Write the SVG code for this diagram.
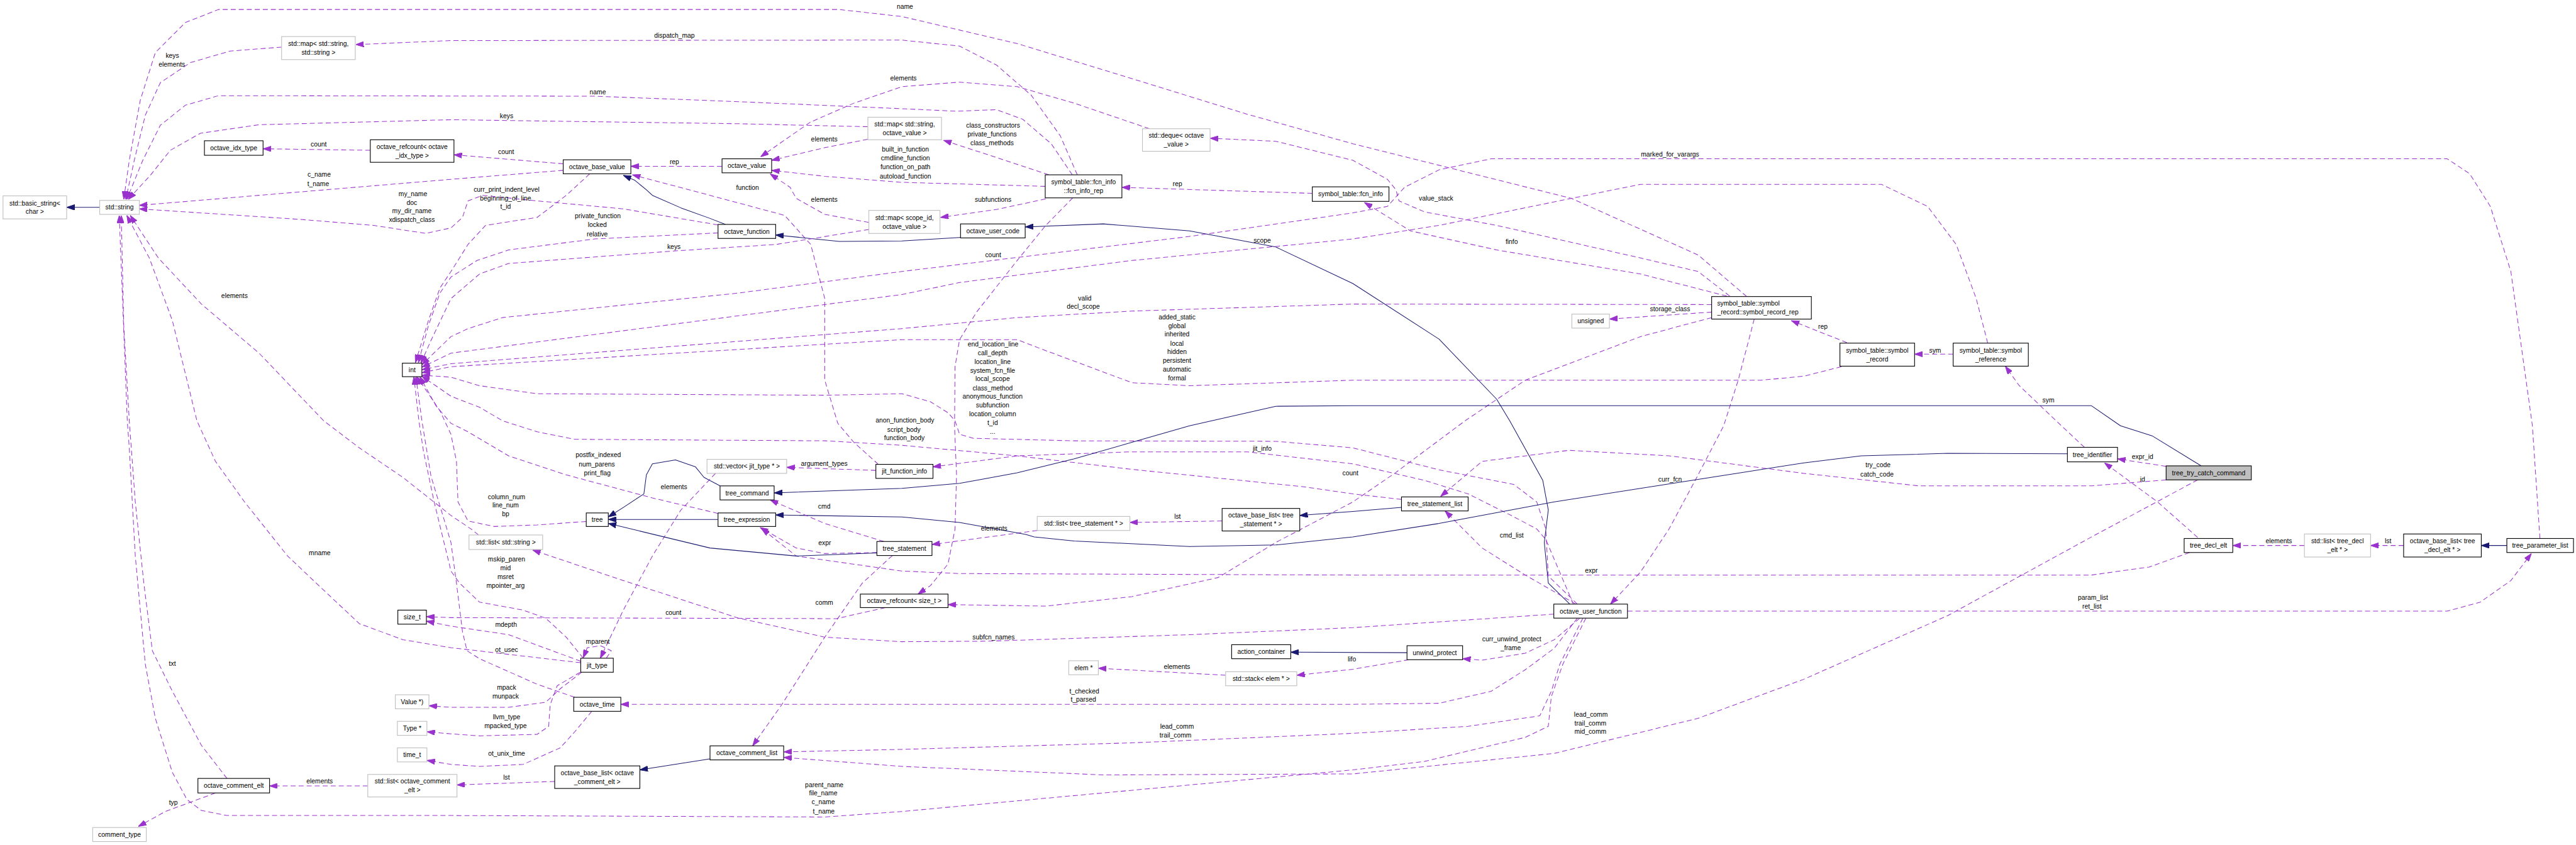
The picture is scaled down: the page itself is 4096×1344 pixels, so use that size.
<svg xmlns="http://www.w3.org/2000/svg" width="4096" height="1344" viewBox="0 0 4096 1344">
<defs>
<style>
.n rect{fill:#fff;stroke:#000;stroke-width:1.4}
.g rect{fill:#fff;stroke:#bfbfbf;stroke-width:1.4}
.s rect{fill:#bfbfbf;stroke:#000;stroke-width:1.4}
text{font-family:"Liberation Sans",Arial,sans-serif;font-size:13px;fill:#000;text-anchor:middle}
.u{fill:none;stroke:#9a32cd;stroke-width:1.3;stroke-dasharray:10,6;stroke-linejoin:round;marker-end:url(#ap)}
.i{fill:none;stroke:#191970;stroke-width:1.3;stroke-linejoin:round;marker-end:url(#ab)}
</style>
<marker id="ap" viewBox="0 0 10 10" refX="10" refY="5" markerWidth="16" markerHeight="11" markerUnits="userSpaceOnUse" orient="auto" preserveAspectRatio="none"><path d="M0,0L10,5L0,10z" fill="#9a32cd" stroke="#9a32cd"/></marker>
<marker id="ab" viewBox="0 0 10 10" refX="10" refY="5" markerWidth="16" markerHeight="11" markerUnits="userSpaceOnUse" orient="auto" preserveAspectRatio="none"><path d="M0,0L10,5L0,10z" fill="#191970" stroke="#191970"/></marker>
</defs>
<rect width="4096" height="1344" fill="#fff"/>
<g transform="scale(0.79673)">
<g id="connectors">
<path class="i" d="M199,414 L133,414"/>
<path class="u" d="M3486,592 L3389,509 L3136,396 L2700,287 L2489,228 L2259,157 L2030,87 L1800,33 L1675,19 L436,19 L370,45 L310,105 L280,200 L258,320 L247,398"/>
<path class="u" d="M562,94 L459,102 L380,125 L320,165 L290,230 L268,320 L251,398"/>
<path class="u" d="M2150,349 L2116,271 L2058,190 L1989,130 L1915,92 L1800,80 L900,81 L710,89"/>
<path class="u" d="M2140,349 L2098,287 L2041,238 L1989,219 L1909,222 L1800,217 L1474,203 L1187,192 L436,191 L370,210 L320,250 L285,320 L253,398"/>
<path class="u" d="M1732,253 L1474,247 L900,239 L517,249 L400,266 L340,300 L300,350 L256,398"/>
<path class="u" d="M739,300 L525,297"/>
<path class="u" d="M1124,327 L906,309"/>
<path class="u" d="M1124,340 L900,358 L600,383 L278,410"/>
<path class="u" d="M1433,449 L1244,417 L1072,401 L963,390 L934,401 L923,434 L900,455 L850,466 L746,450 L600,438 L278,417"/>
<path class="u" d="M1441,332 L1259,332"/>
<path class="i" d="M1448,448 L1417,436 L1359,415 L1302,390 L1290,379 L1267,360 L1244,350"/>
<path class="u" d="M1753,927 L1704,883 L1672,845 L1646,759 L1646,596 L1618,488 L1566,430 L1417,390 L1262,349"/>
<path class="u" d="M2294,257 L2144,206 L2030,173 L1915,164 L1800,173 L1704,206 L1617,244 L1518,313"/>
<path class="u" d="M1732,278 L1645,295 L1540,320"/>
<path class="u" d="M2086,372 L1800,364 L1646,352 L1540,340"/>
<path class="u" d="M2093,349 L1972,309 L1883,280"/>
<path class="u" d="M2087,397 L1990,418 L1877,434"/>
<path class="u" d="M1734,444 L1646,428 L1589,396 L1577,374 L1537,347"/>
<path class="i" d="M1917,474 L1800,481 L1675,482 L1548,469"/>
<path class="i" d="M3133,1206 L3090,1164 L3082,1083 L3090,1018 L3079,959 L3013,840 L2987,797 L2872,677 L2700,566 L2546,493 L2374,461 L2202,447 L2046,453"/>
<path class="u" d="M2619,386 L2239,374"/>
<path class="u" d="M3452,591 L3389,542 L3274,515 L2987,450 L2843,423 L2792,401 L2786,379 L2769,358 L2700,320 L2546,282 L2415,276"/>
<path class="u" d="M3446,591 L3274,547 L2987,499 L2815,461 L2723,404"/>
<path class="u" d="M5069,1075 L5054,850 L5011,542 L4970,412 L4929,347 L4884,317 L2976,317 L2872,339 L2803,374 L2769,412 L2700,425 L2374,472 L1800,542 L1474,585 L1003,634 L934,656 L900,672 L842,728"/>
<path class="u" d="M3967,685 L3944,596 L3904,488 L3847,412 L3755,368 L3274,368 L3136,396 L2872,450 L2700,477 L2259,520 L1915,564 L1800,588 L900,705 L842,733"/>
<path class="u" d="M3416,608 L2700,607 L2259,621 L2030,634 L1800,656 L900,726 L842,738"/>
<path class="u" d="M3675,732 L3600,751 L3515,759 L2700,759 L2374,770 L2259,764 L2144,721 L2087,700 L2030,678 L1800,678 L900,732 L842,744"/>
<path class="u" d="M3148,1206 L3090,1150 L3085,1056 L3067,1002 L3021,967 L2872,938 L2700,894 L2546,881 L2144,880 L1943,875 L1915,867 L1906,840 L1892,824 L1857,802 L1800,786 L1646,789 L1072,786 L957,770 L900,753 L842,749"/>
<path class="u" d="M2797,997 L2700,986 L2604,972 L2259,937 L2030,910 L1800,889 L1647,880 L1147,877 L1072,862 L1003,840 L957,813 L900,791 L842,751"/>
<path class="u" d="M1433,465 L1187,477 L1015,499 L952,520 L900,553 L878,585 L855,650 L835,724"/>
<path class="u" d="M1177,347 L1130,390 L1072,434 L969,450 L934,488 L900,542 L878,575 L855,640 L829,724"/>
<path class="u" d="M1734,458 L1549,488 L1345,501 L1015,526 L957,547 L900,596 L860,680 L840,725"/>
<path class="u" d="M1170,1041 L1072,1048 L986,1051 L934,1040 L914,1002 L911,921 L900,867 L878,820 L832,752"/>
<path class="u" d="M1433,1025 L1302,994 L1130,948 L1015,910 L934,862 L900,845 L870,810 L838,752"/>
<path class="u" d="M1164,1314 L1130,1272 L1089,1234 L1044,1218 L957,1202 L917,1164 L900,1140 L866,1000 L845,900 L836,840 L826,752"/>
<path class="u" d="M1147,1392 L1072,1366 L957,1315 L932,1299 L923,1261 L911,1164 L900,1083 L860,950 L842,840 L830,752"/>
<path class="u" d="M1159,1320 L1015,1267 L900,1250 L851,1240"/>
<path class="u" d="M1767,1213 L1669,1235 L900,1233 L851,1231"/>
<path class="u" d="M1159,1323 L900,1293 L804,1277 L717,1245 L631,1164 L574,1110 L488,1002 L430,921 L393,840 L344,640 L298,515 L253,430"/>
<path class="u" d="M955,1068 L940,1056 L900,1029 L804,953 L717,894 L646,840 L517,705 L402,607 L316,515 L260,430"/>
<path class="u" d="M453,1554 L402,1488 L344,1380 L304,1299 L287,1164 L270,1002 L258,840 L247,650 L242,430"/>
<path class="u" d="M3165,1234 L3119,1326 L3096,1391 L3090,1450 L3044,1472 L2843,1520 L2700,1537 L1800,1620 L1646,1631 L900,1628 L453,1628 L402,1618 L373,1596 L344,1542 L310,1434 L290,1326 L270,1110 L258,894 L254,840 L238,430"/>
<path class="u" d="M430,1583 L330,1620 L276,1650"/>
<path class="u" d="M734,1569 L538,1569"/>
<path class="u" d="M1107,1560 L912,1567"/>
<path class="i" d="M1417,1515 L1277,1537"/>
<path class="u" d="M1161,1342 L1118,1375 L1089,1402 L1015,1412 L900,1412 L856,1409"/>
<path class="u" d="M1158,1342 L1112,1369 L1098,1407 L1095,1450 L1072,1466 L957,1469 L900,1465 L852,1461"/>
<path class="u" d="M1181,1420 L1147,1461 L1118,1493 L1044,1526 L957,1530 L900,1526 L852,1518"/>
<path class="u" d="M3148,1234 L3102,1294 L3044,1337 L2976,1380 L2872,1404 L2700,1406 L1239,1406"/>
<path class="u" d="M3159,1234 L3113,1326 L3096,1380 L3073,1429 L2930,1450 L2700,1464 L2259,1483 L1800,1496 L1564,1501"/>
<path class="u" d="M4386,958 L4174,1072 L3887,1229 L3600,1356 L3389,1434 L3102,1504 L2700,1545 L2202,1547 L1800,1530 L1564,1512"/>
<path class="u" d="M3153,1234 L3102,1277 L3044,1304 L2958,1318 L2919,1315"/>
<path class="i" d="M2808,1303 L2576,1302"/>
<path class="u" d="M2812,1317 L2700,1336 L2588,1348"/>
<path class="u" d="M2446,1348 L2192,1334"/>
<path class="u" d="M3145,1206 L3044,1148 L2958,1094 L2884,1020"/>
<path class="u" d="M4323,958 L4174,970 L3830,970 L3600,945 L3331,910 L3131,899 L2958,921 L2875,991"/>
<path class="i" d="M2797,1013 L2700,1021 L2594,1029"/>
<path class="u" d="M2439,1040 L2255,1043"/>
<path class="u" d="M2070,1059 L1860,1087"/>
<path class="u" d="M3140,1206 L3085,1077 L3067,1056 L3016,1029 L2930,986 L2843,959 L2700,926 L2489,902 L2259,902 L2030,910 L1862,932"/>
<path class="u" d="M2141,395 L2087,450 L2030,520 L1949,623 L1915,678 L1906,732 L1905,850 L1909,948 L1906,1056 L1892,1126 L1857,1169 L1832,1186"/>
<path class="u" d="M3416,634 L3274,672 L3044,759 L2924,840 L2786,943 L2700,1002 L2546,1083 L2431,1153 L2259,1191 L2087,1210 L1892,1207"/>
<path class="u" d="M3501,637 L3469,759 L3440,850 L3389,948 L3331,1056 L3274,1142 L3214,1206"/>
<path class="u" d="M3416,623 L3212,637"/>
<path class="u" d="M3686,684 L3600,650 L3575,640"/>
<path class="u" d="M3898,707 L3821,707"/>
<path class="u" d="M4160,893 L4114,850 L4030,770 L4002,731"/>
<path class="u" d="M4323,931 L4226,916"/>
<path class="u" d="M4386,1073 L4306,1002 L4200,924"/>
<path class="u" d="M4599,1089 L4456,1089"/>
<path class="u" d="M4797,1089 L4731,1089"/>
<path class="i" d="M5003,1089 L4952,1089"/>
<path class="u" d="M3248,1220 L4884,1220 L4950,1202 L5011,1159 L5052,1105"/>
<path class="u" d="M4370,1103 L4289,1132 L4174,1148 L2700,1148 L1915,1145 L1800,1140 L1589,1110 L1520,1055"/>
<path class="i" d="M4393,930 L4295,870 L4232,850 L4174,810 L2700,810 L2546,811 L2374,850 L2259,883 L2144,916 L2030,944 L1915,965 L1800,975 L1545,984"/>
<path class="i" d="M4126,906 L3887,905 L3715,910 L3600,924 L3274,975 L3102,1002 L2872,1045 L2700,1072 L2546,1088 L2374,1091 L2144,1080 L2064,1072 L2047,1067 L1915,1043 L1800,1032 L1548,1028"/>
<path class="u" d="M1764,1081 L1646,1045 L1537,998"/>
<path class="u" d="M1750,1103 L1646,1105 L1589,1094 L1517,1053"/>
<path class="u" d="M1781,1109 L1721,1164 L1646,1272 L1560,1407 L1502,1489"/>
<path class="u" d="M1748,939 L1570,933"/>
<path class="u" d="M1428,945 L1359,1018 L1302,1110 L1244,1218 L1198,1314"/>
<path class="u" d="M1210,1314 L1220,1299 L1198,1289 L1172,1293 L1164,1313"/>
<path class="i" d="M1437,970 L1405,953 L1388,932 L1348,918 L1302,926 L1290,948 L1285,986 L1244,1013 L1214,1032"/>
<path class="i" d="M1433,1037 L1214,1037"/>
<path class="i" d="M1750,1104 L1589,1110 L1417,1094 L1214,1045"/>
<path class="u" d="M3101,1226 L2700,1253 L2374,1267 L1972,1280 L1800,1281 L1646,1272 L1474,1234 L1244,1159 L1063,1098"/>
<text x="1806" y="17">name</text>
<text x="344" y="116">keys</text><text x="343" y="133">elements</text>
<text x="1346" y="75">dispatch_map</text>
<text x="1193" y="188">name</text>
<text x="1011" y="236">keys</text>
<text x="636" y="293">count</text>
<text x="1010" y="307">count</text>
<text x="637" y="353">c_name</text><text x="635" y="371">t_name</text>
<text x="824" y="391">my_name</text><text x="822" y="409">doc</text><text x="822" y="426">my_dir_name</text><text x="822" y="443">xdispatch_class</text>
<text x="1346" y="327">rep</text>
<text x="1492" y="379">function</text>
<text x="1803" y="161">elements</text>
<text x="1645" y="283">elements</text>
<text x="1807" y="303">built_in_function</text><text x="1807" y="320">cmdline_function</text><text x="1807" y="338">function_on_path</text><text x="1807" y="356">autoload_function</text>
<text x="1982" y="255">class_constructors</text><text x="1980" y="273">private_functions</text><text x="1980" y="290">class_methods</text>
<text x="1982" y="403">subfunctions</text>
<text x="1645" y="403">elements</text>
<text x="2350" y="372">rep</text>
<text x="2866" y="400">value_stack</text>
<text x="3017" y="487">finfo</text>
<text x="3333" y="313">marked_for_varargs</text>
<text x="2519" y="484">scope</text>
<text x="2165" y="600">valid</text><text x="2162" y="616">decl_scope</text>
<text x="2349" y="638">added_static</text><text x="2349" y="655">global</text><text x="2349" y="672">inherited</text><text x="2349" y="690">local</text><text x="2349" y="707">hidden</text><text x="2349" y="724">persistent</text><text x="2349" y="742">automatic</text><text x="2349" y="760">formal</text>
<text x="1982" y="692">end_location_line</text><text x="1981" y="709">call_depth</text><text x="1981" y="727">location_line</text><text x="1981" y="744">system_fcn_file</text><text x="1981" y="761">local_scope</text><text x="1981" y="779">class_method</text><text x="1981" y="796">anonymous_function</text><text x="1981" y="813">subfunction</text><text x="1981" y="831">location_column</text><text x="1981" y="848">t_id</text><text x="1981" y="866">...</text>
<text x="1806" y="844">anon_function_body</text><text x="1804" y="862">script_body</text><text x="1805" y="879">function_body</text>
<text x="1193" y="436">private_function</text><text x="1192" y="453">locked</text><text x="1192" y="472">relative</text>
<text x="1011" y="383">curr_print_indent_level</text><text x="1009" y="401">beginning_of_line</text><text x="1009" y="417">t_id</text>
<text x="1345" y="497">keys</text>
<text x="1011" y="997">column_num</text><text x="1009" y="1013">line_num</text><text x="1009" y="1031">bp</text>
<text x="1194" y="913">postfix_indexed</text><text x="1191" y="931">num_parens</text><text x="1192" y="949">print_flag</text>
<text x="1011" y="1121">mskip_paren</text><text x="1009" y="1139">mid</text><text x="1009" y="1156">msret</text><text x="1009" y="1174">mpointer_arg</text>
<text x="1010" y="1252">mdepth</text>
<text x="1011" y="1301">ot_usec</text>
<text x="1344" y="1228">count</text>
<text x="638" y="1108">mname</text>
<text x="468" y="595">elements</text>
<text x="344" y="1329">txt</text>
<text x="1645" y="1571">parent_name</text><text x="1643" y="1588">file_name</text><text x="1643" y="1605">c_name</text><text x="1644" y="1624">t_name</text>
<text x="346" y="1607">typ</text>
<text x="638" y="1564">elements</text>
<text x="1011" y="1556">lst</text>
<text x="1011" y="1377">mpack</text><text x="1009" y="1395">munpack</text>
<text x="1011" y="1436">llvm_type</text><text x="1009" y="1454">mpacked_type</text>
<text x="1011" y="1509">ot_unix_time</text>
<text x="2164" y="1384">t_checked</text><text x="2162" y="1401">t_parsed</text>
<text x="2349" y="1455">lead_comm</text><text x="2346" y="1472">trail_comm</text>
<text x="3175" y="1431">lead_comm</text><text x="3174" y="1448">trail_comm</text><text x="3174" y="1465">mid_comm</text>
<text x="3017" y="1280">curr_unwind_protect</text><text x="3015" y="1298">_frame</text>
<text x="2698" y="1321">lifo</text>
<text x="2349" y="1336">elements</text>
<text x="3017" y="1073">cmd_list</text>
<text x="3748" y="933">try_code</text><text x="3746" y="951">catch_code</text>
<text x="2350" y="1035">lst</text>
<text x="1984" y="1059">elements</text>
<text x="2519" y="900">jit_info</text>
<text x="1982" y="513">count</text>
<text x="2695" y="949">count</text>
<text x="3333" y="961">curr_fcn</text>
<text x="3333" y="621">storage_class</text>
<text x="3638" y="656">rep</text>
<text x="3862" y="704">sym</text>
<text x="4088" y="803">sym</text>
<text x="4276" y="916">expr_id</text>
<text x="4276" y="961">id</text>
<text x="4548" y="1084">elements</text>
<text x="4766" y="1084">lst</text>
<text x="4177" y="1198">param_list</text><text x="4175" y="1215">ret_list</text>
<text x="3176" y="1144">expr</text>
<text x="1645" y="1016">cmd</text>
<text x="1646" y="1088">expr</text>
<text x="1645" y="1207">comm</text>
<text x="1645" y="930">argument_types</text>
<text x="1345" y="976">elements</text>
<text x="1193" y="1285">mparent</text>
<text x="1983" y="1276">subfcn_names</text>
</g>
<g id="std_basic_string" class="g"><rect x="6" y="391" width="127" height="46"/><text x="69.5" y="410">std::basic_string&lt;</text><text x="69.5" y="427.3">char &gt;</text></g>
<g id="std_string" class="g"><rect x="199" y="400" width="79" height="28"/><text x="238.5" y="418.6">std::string</text></g>
<g id="map_string_string" class="g"><rect x="562" y="73" width="147" height="46"/><text x="635.5" y="91.9">std::map&lt; std::string,</text><text x="635.5" y="109.3">std::string &gt;</text></g>
<g id="octave_idx_type" class="n"><rect x="408" y="281" width="117" height="29"/><text x="466.5" y="300.1">octave_idx_type</text></g>
<g id="refcount_idx" class="n"><rect x="739" y="279" width="167" height="45"/><text x="822.5" y="297.4">octave_refcount&lt; octave</text><text x="822.5" y="314.8">_idx_type &gt;</text></g>
<g id="int" class="n"><rect x="803" y="725" width="39" height="27"/><text x="822.5" y="743.1">int</text></g>
<g id="size_t" class="n"><rect x="794" y="1218" width="57" height="28"/><text x="822.5" y="1236.6">size_t</text></g>
<g id="value_ptr" class="g"><rect x="789" y="1387" width="67" height="28"/><text x="822.5" y="1405.6">Value *)</text></g>
<g id="type_ptr" class="g"><rect x="793" y="1440" width="59" height="28"/><text x="822.5" y="1458.6">Type *</text></g>
<g id="time_t" class="g"><rect x="793" y="1493" width="59" height="28"/><text x="822.5" y="1511.6">time_t</text></g>
<g id="list_comment_elt" class="g"><rect x="734" y="1546" width="178" height="45"/><text x="823" y="1564.4">std::list&lt; octave_comment</text><text x="823" y="1581.8">_elt &gt;</text></g>
<g id="octave_comment_elt" class="n"><rect x="395" y="1554" width="143" height="29"/><text x="466.5" y="1573.1">octave_comment_elt</text></g>
<g id="comment_type" class="g"><rect x="185" y="1652" width="107" height="28"/><text x="238.5" y="1670.6">comment_type</text></g>
<g id="octave_base_value" class="n"><rect x="1124" y="319" width="135" height="28"/><text x="1191.5" y="337.6">octave_base_value</text></g>
<g id="octave_value" class="n"><rect x="1441" y="317" width="99" height="28"/><text x="1490.5" y="335.6">octave_value</text></g>
<g id="octave_function" class="n"><rect x="1433" y="448" width="115" height="28"/><text x="1490.5" y="466.6">octave_function</text></g>
<g id="map_string_value" class="g"><rect x="1732" y="234" width="147" height="45"/><text x="1805.5" y="252.4">std::map&lt; std::string,</text><text x="1805.5" y="269.8">octave_value &gt;</text></g>
<g id="map_scope_value" class="g"><rect x="1734" y="420" width="142" height="46"/><text x="1805" y="438.9">std::map&lt; scope_id,</text><text x="1805" y="456.3">octave_value &gt;</text></g>
<g id="vector_jit_type" class="g"><rect x="1411" y="917" width="159" height="28"/><text x="1490.5" y="935.6">std::vector&lt; jit_type * &gt;</text></g>
<g id="tree_command" class="n"><rect x="1437" y="970" width="108" height="28"/><text x="1491" y="988.6">tree_command</text></g>
<g id="tree" class="n"><rect x="1170" y="1024" width="44" height="27"/><text x="1192" y="1042.1">tree</text></g>
<g id="tree_expression" class="n"><rect x="1433" y="1024" width="115" height="27"/><text x="1490.5" y="1042.1">tree_expression</text></g>
<g id="list_string" class="g"><rect x="936" y="1068" width="147" height="29"/><text x="1009.5" y="1087.1">std::list&lt; std::string &gt;</text></g>
<g id="tree_statement" class="n"><rect x="1750" y="1081" width="110" height="28"/><text x="1805" y="1099.6">tree_statement</text></g>
<g id="refcount_size_t" class="n"><rect x="1717" y="1186" width="175" height="27"/><text x="1804.5" y="1204.1">octave_refcount&lt; size_t &gt;</text></g>
<g id="jit_function_info" class="n"><rect x="1748" y="927" width="114" height="28"/><text x="1805" y="945.6">jit_function_info</text></g>
<g id="jit_type" class="n"><rect x="1159" y="1314" width="65" height="28"/><text x="1191.5" y="1332.6">jit_type</text></g>
<g id="octave_time" class="n"><rect x="1145" y="1392" width="94" height="28"/><text x="1192" y="1410.6">octave_time</text></g>
<g id="octave_comment_list" class="n"><rect x="1417" y="1489" width="147" height="28"/><text x="1490.5" y="1507.6">octave_comment_list</text></g>
<g id="base_list_comment" class="n"><rect x="1107" y="1529" width="170" height="45"/><text x="1192" y="1547.4">octave_base_list&lt; octave</text><text x="1192" y="1564.8">_comment_elt &gt;</text></g>
<g id="deque_value" class="g"><rect x="2280" y="257" width="135" height="45"/><text x="2347.5" y="275.4">std::deque&lt; octave</text><text x="2347.5" y="292.8">_value &gt;</text></g>
<g id="fcn_info_rep" class="n"><rect x="2086" y="349" width="153" height="46"/><text x="2162.5" y="367.9">symbol_table::fcn_info</text><text x="2162.5" y="385.3">::fcn_info_rep</text></g>
<g id="octave_user_code" class="n"><rect x="1917" y="447" width="129" height="28"/><text x="1981.5" y="465.6">octave_user_code</text></g>
<g id="fcn_info" class="n"><rect x="2619" y="373" width="153" height="29"/><text x="2695.5" y="392.1">symbol_table::fcn_info</text></g>
<g id="list_statement" class="g"><rect x="2070" y="1031" width="185" height="28"/><text x="2162.5" y="1049.6">std::list&lt; tree_statement * &gt;</text></g>
<g id="base_list_statement" class="n"><rect x="2439" y="1015" width="155" height="45"/><text x="2516.5" y="1033.4">octave_base_list&lt; tree</text><text x="2516.5" y="1050.8">_statement * &gt;</text></g>
<g id="action_container" class="n"><rect x="2458" y="1287" width="118" height="28"/><text x="2517" y="1305.6">action_container</text></g>
<g id="elem_ptr" class="g"><rect x="2133" y="1319" width="59" height="28"/><text x="2162.5" y="1337.6">elem *</text></g>
<g id="stack_elem" class="g"><rect x="2446" y="1341" width="142" height="28"/><text x="2517" y="1359.6">std::stack&lt; elem * &gt;</text></g>
<g id="symbol_record_rep" class="n"><rect x="3416" y="592" width="199" height="45"/><text x="3427" y="610.4" style="text-anchor:start">symbol_table::symbol</text><text x="3427" y="627.8" style="text-anchor:start">_record::symbol_record_rep</text></g>
<g id="unsigned" class="g"><rect x="3137" y="627" width="75" height="28"/><text x="3174.5" y="645.6">unsigned</text></g>
<g id="tree_statement_list" class="n"><rect x="2797" y="992" width="133" height="28"/><text x="2863.5" y="1010.6">tree_statement_list</text></g>
<g id="octave_user_function" class="n"><rect x="3101" y="1206" width="147" height="28"/><text x="3174.5" y="1224.6">octave_user_function</text></g>
<g id="unwind_protect" class="n"><rect x="2808" y="1289" width="111" height="28"/><text x="2863.5" y="1307.6">unwind_protect</text></g>
<g id="symbol_record" class="n"><rect x="3672" y="685" width="149" height="46"/><text x="3746.5" y="703.9">symbol_table::symbol</text><text x="3746.5" y="721.3">_record</text></g>
<g id="symbol_reference" class="n"><rect x="3898" y="685" width="150" height="46"/><text x="3973" y="703.9">symbol_table::symbol</text><text x="3973" y="721.3">_reference</text></g>
<g id="tree_identifier" class="n"><rect x="4126" y="893" width="100" height="29"/><text x="4176" y="912.1">tree_identifier</text></g>
<g id="tree_try_catch_command" class="s"><rect x="4323" y="930" width="170" height="28"/><text x="4408" y="948.6">tree_try_catch_command</text></g>
<g id="tree_decl_elt" class="n"><rect x="4359" y="1075" width="97" height="28"/><text x="4407.5" y="1093.6">tree_decl_elt</text></g>
<g id="list_decl_elt" class="g"><rect x="4599" y="1066" width="132" height="46"/><text x="4665" y="1084.9">std::list&lt; tree_decl</text><text x="4665" y="1102.3">_elt * &gt;</text></g>
<g id="base_list_decl_elt" class="n"><rect x="4797" y="1066" width="155" height="46"/><text x="4874.5" y="1084.9">octave_base_list&lt; tree</text><text x="4874.5" y="1102.3">_decl_elt * &gt;</text></g>
<g id="tree_parameter_list" class="n"><rect x="5003" y="1075" width="133" height="28"/><text x="5069.5" y="1093.6">tree_parameter_list</text></g>
</g>
</svg>
